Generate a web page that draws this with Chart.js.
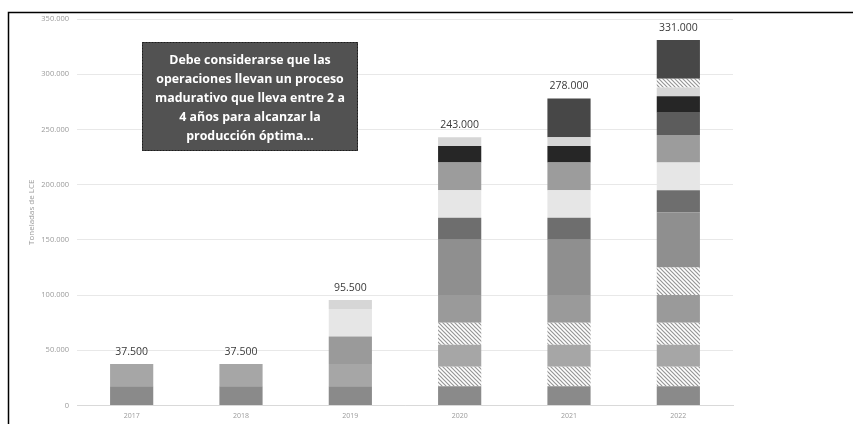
<!DOCTYPE html>
<html>
<head>
<meta charset="utf-8">
<script src="https://cdn.jsdelivr.net/npm/chart.js@4"></script>
<style>
  html, body { margin: 0; padding: 0; background: #fff; }
  #wrap { width: 853px; height: 424px; position: relative; }
</style>
</head>
<body>
<div id="wrap"><canvas id="grafico" width="853" height="424"></canvas></div>
<script>
// Datos (toneladas de LCE por proyecto, apiladas de abajo hacia arriba)
const anios = ['2017', '2018', '2019', '2020', '2021', '2022'];
const proyA      = [17500, 17500, 17500, 17500, 17500, 17500];
const proyAExp   = [0, 0, 0, 17500, 17500, 17500];
const proyB      = [20000, 20000, 20000, 20000, 20000, 20000];
const proyBExp   = [0, 0, 0, 20000, 20000, 20000];
const proyC      = [0, 0, 25000, 25000, 25000, 25000];
const proyCExp   = [0, 0, 0, 0, 0, 25000];
const proyD      = [0, 0, 0, 50000, 50000, 50000];
const proyE      = [0, 0, 0, 20000, 20000, 20000];
const proyF      = [0, 0, 25000, 25000, 25000, 25000];
const proyG      = [0, 0, 0, 25000, 25000, 25000];
const proyH      = [0, 0, 0, 0, 0, 20000];
const proyI      = [0, 0, 0, 15000, 15000, 15000];
const proyJ      = [0, 0, 8000, 8000, 8000, 8000];
const proyJExp   = [0, 0, 0, 0, 0, 8000];
const proyK      = [0, 0, 0, 0, 35000, 35000];
const ticksY     = [0, 50000, 100000, 150000, 200000, 250000, 300000, 350000];

const notaLineas = [
    'Debe considerarse que las',
    'operaciones llevan un proceso',
    'madurativo que lleva entre 2 a',
    '4 años para alcanzar la',
    'producción óptima...'
];

function formatoMiles(v) {
    return String(Math.round(v)).replace(/\B(?=(\d{3})+(?!\d))/g, '.');
}

const canvas = document.getElementById('grafico');
const ctx = canvas.getContext('2d');

// Patrón rayado para las ampliaciones
function rayado() {
    const p = document.createElement('canvas');
    p.width = 4; p.height = 4;
    const c = p.getContext('2d');
    c.fillStyle = '#ffffff';
    c.fillRect(0, 0, 4, 4);
    c.strokeStyle = '#969696';
    c.lineWidth = 1.2;
    c.beginPath();
    c.moveTo(-1, -1); c.lineTo(5, 5);
    c.moveTo(-1, 3); c.lineTo(1, 5);
    c.moveTo(3, -1); c.lineTo(5, 1);
    c.stroke();
    return ctx.createPattern(p, 'repeat');
}
const hatch = rayado();

const series = [
    [proyA, '#8a8a8a'],
    [proyAExp, hatch],
    [proyB, '#a6a6a6'],
    [proyBExp, hatch],
    [proyC, '#9a9a9a'],
    [proyCExp, hatch],
    [proyD, '#8f8f8f'],
    [proyE, '#6e6e6e'],
    [proyF, '#e6e6e6'],
    [proyG, '#9c9c9c'],
    [proyH, '#5c5c5c'],
    [proyI, '#262626'],
    [proyJ, '#d6d6d6'],
    [proyJExp, hatch],
    [proyK, '#474747']
];

// Marco, totales y nota
const extras = {
    id: 'extras',
    afterDatasetsDraw(chart) {
        const c = chart.ctx;
        const x = chart.scales.x, y = chart.scales.y;
        c.save();
        c.fillStyle = '#3a3a3a';
        c.font = '10.5px "Open Sans"';
        c.textAlign = 'center';
        c.textBaseline = 'middle';
        anios.forEach((a, i) => {
            const total = series.reduce((s, d) => s + d[0][i], 0);
            c.fillText(formatoMiles(total), x.getPixelForValue(i), y.getPixelForValue(total) - 12);
        });

        // nota
        c.fillStyle = '#525252';
        c.fillRect(142, 42, 216, 109);
        c.setLineDash([2, 1]);
        c.strokeStyle = '#1e1e1e';
        c.lineWidth = 1;
        c.strokeRect(142.5, 42.5, 215, 108);
        c.setLineDash([]);
        c.fillStyle = '#ffffff';
        c.font = 'bold 12.4px "Open Sans"';
        notaLineas.forEach((l, i) => c.fillText(l, 250, 60 + i * 19));

        // marco
        c.strokeStyle = '#000';
        c.lineWidth = 1.5;
        c.beginPath();
        c.moveTo(853, 12.5);
        c.lineTo(8.5, 12.5);
        c.lineTo(8.5, 424);
        c.stroke();
        c.restore();
    }
};

new Chart(ctx, {
    type: 'bar',
    data: {
        labels: anios,
        datasets: series.map((s, i) => ({
            label: 'Proyecto ' + (i + 1),
            data: s[0],
            backgroundColor: s[1],
            borderWidth: 0
        }))
    },
    options: {
        responsive: false,
        animation: false,
        layout: { padding: { left: 20, right: 120, top: 19, bottom: 0 } },
        datasets: { bar: { categoryPercentage: 1, barPercentage: 0.395 } },
        plugins: {
            legend: { display: false },
            tooltip: { enabled: false }
        },
        scales: {
            x: {
                stacked: true,
                grid: { display: false, drawTicks: false },
                border: { color: '#d9d9d9' },
                ticks: { color: '#9a9a9a', font: { family: 'Open Sans', size: 7 }, padding: 6 },
                afterFit: s => { s.height = 18.5; }
            },
            y: {
                stacked: true,
                min: 0,
                max: 350000,
                afterBuildTicks: s => { s.ticks = ticksY.map(v => ({ value: v })); },
                grid: { color: '#e8e8e8', drawTicks: false },
                border: { display: false },
                ticks: {
                    color: '#9a9a9a',
                    font: { family: 'Open Sans', size: 7.5 },
                    padding: 8,
                    callback: v => formatoMiles(v)
                },
                title: {
                    display: true,
                    text: 'Toneladas de LCE',
                    color: '#9a9a9a',
                    font: { family: 'Open Sans', size: 8 },
                    padding: { top: 7, bottom: 0 }
                },
                afterFit: s => { s.width = 57; }
            }
        }
    },
    plugins: [extras]
});
</script>
</body>
</html>
